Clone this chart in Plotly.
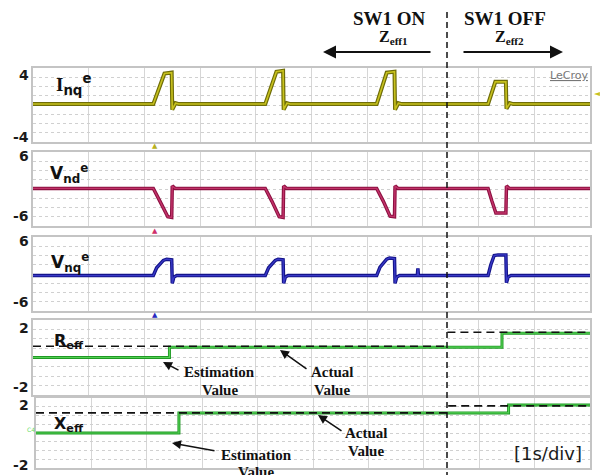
import plotly.graph_objects as go

W, H = 600, 475

# ---------------- data (time in s, 1 s/div, 10 div) ----------------
t_inq = [0, 2.16, 2.36, 2.49, 2.50, 2.56, 2.62,
         4.17, 4.37, 4.49, 4.50, 4.56, 4.62,
         6.17, 6.35, 6.49, 6.50, 6.56, 6.62,
         8.17, 8.30, 8.49, 8.50, 8.56, 8.62, 10]
inq = [0.1, 0.1, 3.4, 3.5, -0.5, 0.2, 0.1,
       0.1, 3.6, 3.7, -0.5, 0.2, 0.1,
       0.1, 3.5, 3.6, -0.5, 0.2, 0.1,
       0.1, 2.5, 2.5, -0.4, 0.2, 0.1, 0.1]

t_vnd = [0, 2.16, 2.28, 2.37, 2.42, 2.49, 2.50, 2.55,
         4.17, 4.29, 4.38, 4.42, 4.49, 4.50, 4.55,
         6.17, 6.29, 6.37, 6.41, 6.49, 6.50, 6.55,
         8.17, 8.24, 8.31, 8.49, 8.50, 8.55, 10]
vnd = [0.1, 0.1, -2.0, -3.7, -4.5, -4.6, 0.5, 0.1,
       0.1, -2.0, -3.7, -4.5, -4.6, 0.5, 0.1,
       0.1, -2.0, -3.7, -4.4, -4.5, 0.5, 0.1,
       0.1, -2.0, -3.9, -3.9, 0.5, 0.1, 0.1]

t_vnq = [0, 2.16, 2.22, 2.34, 2.40, 2.49, 2.50, 2.53, 2.58,
         4.17, 4.23, 4.35, 4.40, 4.49, 4.50, 4.53, 4.58,
         6.17, 6.23, 6.35, 6.40, 6.49, 6.50, 6.53, 6.58,
         6.90, 6.91, 6.92,
         8.17, 8.22, 8.28, 8.35, 8.49, 8.50, 8.53, 8.58, 10]
vnq = [-0.25, -0.25, 1.0, 2.2, 2.4, 2.3, -1.5, -0.5, -0.25,
       -0.25, 1.0, 2.2, 2.4, 2.3, -1.5, -0.5, -0.25,
       -0.25, 1.1, 2.4, 2.6, 2.5, -1.5, -0.5, -0.25,
       -0.25, 0.9, -0.25,
       -0.25, 1.5, 3.0, 3.1, 3.1, -1.4, -0.5, -0.25, -0.25]

t_reff_est = [0, 2.45, 2.45, 8.42, 8.42, 10]
reff_est = [0.0, 0.0, 0.55, 0.55, 1.3, 1.3]
t_reff_act = [0, 7.44, None, 7.44, 10]
reff_act = [0.6, 0.6, None, 1.35, 1.35]

t_xeff_est = [0, 2.58, 2.58, 8.53, 8.53, 10]
xeff_est = [0.0, 0.0, 1.15, 1.15, 1.6, 1.6]
t_xeff_act = [0, 7.44, None, 7.44, 10]
xeff_act = [1.15, 1.15, None, 1.55, 1.55]

y_ranges = [(-4, 4), (-6, 6), (-6, 6), (-2, 2), (-2, 2)]
y_labels = [("4", "-4"), ("6", "-6"), ("6", "-6"), ("2", "-2"), ("2", "-2")]

# ---------------- layout helpers ----------------
def px(x):
    return x / W

def py(y):
    return 1 - y / H

panels = [  # (left, right, top, bottom) in pixels
    (33, 590, 68, 142),
    (33, 590, 152, 226),
    (33, 590, 237, 311),
    (33, 590, 320, 395),
    (36, 590, 398, 468),
]
label_y = [(75, 137), (156, 216), (241, 302), (328, 387), (405, 465)]

fig = go.Figure()

def add(i, x, y, color, width, dash=None):
    suffix = "" if i == 1 else str(i)
    fig.add_trace(go.Scatter(
        x=x, y=y, mode="lines", xaxis="x" + suffix, yaxis="y" + suffix,
        line=dict(color=color, width=width, dash=dash),
        connectgaps=False, hoverinfo="skip"))

add(1, t_inq, inq, "#6f6d08", 4)
add(1, t_inq, inq, "#c8c21e", 1.6)
add(2, t_vnd, vnd, "#8c1040", 3.5)
add(2, t_vnd, vnd, "#c2336a", 1.4)
add(3, t_vnq, vnq, "#14148a", 3.5)
add(3, t_vnq, vnq, "#3a3ac8", 1.3)
add(4, t_reff_est, reff_est, "#1f9a24", 3)
add(4, t_reff_est, reff_est, "#55d055", 1.2)
add(4, t_reff_act, reff_act, "#111111", 1.6, "8px,5px")
add(5, t_xeff_est, xeff_est, "#1f9a24", 3)
add(5, t_xeff_est, xeff_est, "#55d055", 1.2)
add(5, t_xeff_act, xeff_act, "#111111", 1.6, "8px,5px")

layout = dict(width=W, height=H, margin=dict(l=0, r=0, t=0, b=0),
              paper_bgcolor="white", plot_bgcolor="white", showlegend=False)

ydticks = [1, 1.5, 1.5, 0.5, 0.5]
for k, (l, r, t, b) in enumerate(panels):
    i = k + 1
    s = "" if i == 1 else str(i)
    layout["xaxis" + s] = dict(
        domain=[px(l), px(r)], range=[0, 10], anchor="y" + s, dtick=1,
        showgrid=True, gridcolor="#d6d6d6", gridwidth=1,
        showticklabels=False, ticks="", zeroline=False,
        showline=True, mirror=True, linecolor="#c4c4c4", linewidth=2,
        fixedrange=True)
    layout["yaxis" + s] = dict(
        domain=[py(b), py(t)], range=list(y_ranges[k]), anchor="x" + s,
        dtick=ydticks[k], tick0=y_ranges[k][0],
        showgrid=True, gridcolor="#d0d0d0", griddash="3px,3px", gridwidth=1,
        showticklabels=False, ticks="", zeroline=False,
        showline=True, mirror=True, linecolor="#c4c4c4", linewidth=2,
        fixedrange=True)

fig.update_layout(**layout)

ann = []
lab_font = dict(family="DejaVu Sans", size=14, color="#1a1a1a")
for k, (top_txt, bot_txt) in enumerate(y_labels):
    ann.append(dict(text="<b>%s</b>" % top_txt, x=px(31), y=py(label_y[k][0]),
                    xref="paper", yref="paper", xanchor="right", yanchor="middle",
                    showarrow=False, font=lab_font))
    ann.append(dict(text="<b>%s</b>" % bot_txt, x=px(31), y=py(label_y[k][1]),
                    xref="paper", yref="paper", xanchor="right", yanchor="middle",
                    showarrow=False, font=lab_font))

def text(t, x, y, size, family="DejaVu Sans", color="#111", xanchor="left", yanchor="middle"):
    ann.append(dict(text=t, x=px(x), y=py(y), xref="paper", yref="paper",
                    xanchor=xanchor, yanchor=yanchor, showarrow=False,
                    font=dict(family=family, size=size, color=color)))

# trace labels
text('<b><span style="font-family:Liberation Serif">I</span><sub>nq</sub><sup>e</sup></b>',
     54, 84, 19)
text("<b>V<sub>nd</sub><sup>e</sup></b>", 48, 174, 17)
text("<b>V<sub>nq</sub><sup>e</sup></b>", 49, 262, 17)
text("<b>R<sub>eff</sub></b>", 52, 341, 16)
text("<b>X<sub>eff</sub></b>", 52, 424, 16)

serif = "Liberation Serif"
text("<b>SW1 ON</b>", 389, 18, 19, serif, xanchor="center")
text("<b>SW1 OFF</b>", 505, 18, 19, serif, xanchor="center")
text("<b>Z<sub>eff1</sub></b>", 393, 38, 16, serif, xanchor="center")
text("<b>Z<sub>eff2</sub></b>", 509, 38, 16, serif, xanchor="center")

text("<b>Estimation</b>", 220, 372, 15, serif, xanchor="center")
text("<b>Value</b>", 220, 390, 15, serif, xanchor="center")
text("<b>Actual</b>", 332, 372, 15, serif, xanchor="center")
text("<b>Value</b>", 332, 390, 15, serif, xanchor="center")
text("<b>Estimation</b>", 256, 455, 15, serif, xanchor="center")
text("<b>Value</b>", 256, 472, 15, serif, xanchor="center")
text("<b>Actual</b>", 366, 433, 15, serif, xanchor="center")
text("<b>Value</b>", 366, 451, 15, serif, xanchor="center")

text("[1s/div]", 548, 453, 18, "DejaVu Sans", "#1a1a1a", xanchor="center")
text("<u>LeCroy</u>", 569, 75, 11, "DejaVu Sans", "#777777", xanchor="center")
text("◄", 597, 94, 8, "DejaVu Sans", "#c8c21e", xanchor="center")
text("▲", 155, 146, 7, "DejaVu Sans", "#b8b020", xanchor="center")
text("▲", 155, 231, 7, "DejaVu Sans", "#d0306a", xanchor="center")
text("▲", 155, 315, 7, "DejaVu Sans", "#2828c0", xanchor="center")
text("C4", 31, 429, 6, "DejaVu Sans", "#66dd66", xanchor="center")

def arrow(hx, hy, tx, ty, size=1.2, width=1.5):
    ann.append(dict(x=px(hx), y=py(hy), xref="paper", yref="paper",
                    ax=tx - hx, ay=ty - hy, axref="pixel", ayref="pixel",
                    showarrow=True, arrowhead=2, arrowsize=size,
                    arrowwidth=width, arrowcolor="#111", text=""))

arrow(323, 52, 432, 52, 1.3, 2)
arrow(563, 52, 462, 52, 1.3, 2)
arrow(163, 362, 180, 371)
arrow(280, 350, 308, 370)
arrow(172, 443, 216, 451)
arrow(318, 415, 343, 432)

fig.update_layout(annotations=ann)

fig.add_shape(type="line", xref="paper", yref="paper",
              x0=px(447), x1=px(447), y0=py(12), y1=py(475),
              line=dict(color="#111", width=1.5, dash="6px,4px"))

fig.write_html("out.html")
